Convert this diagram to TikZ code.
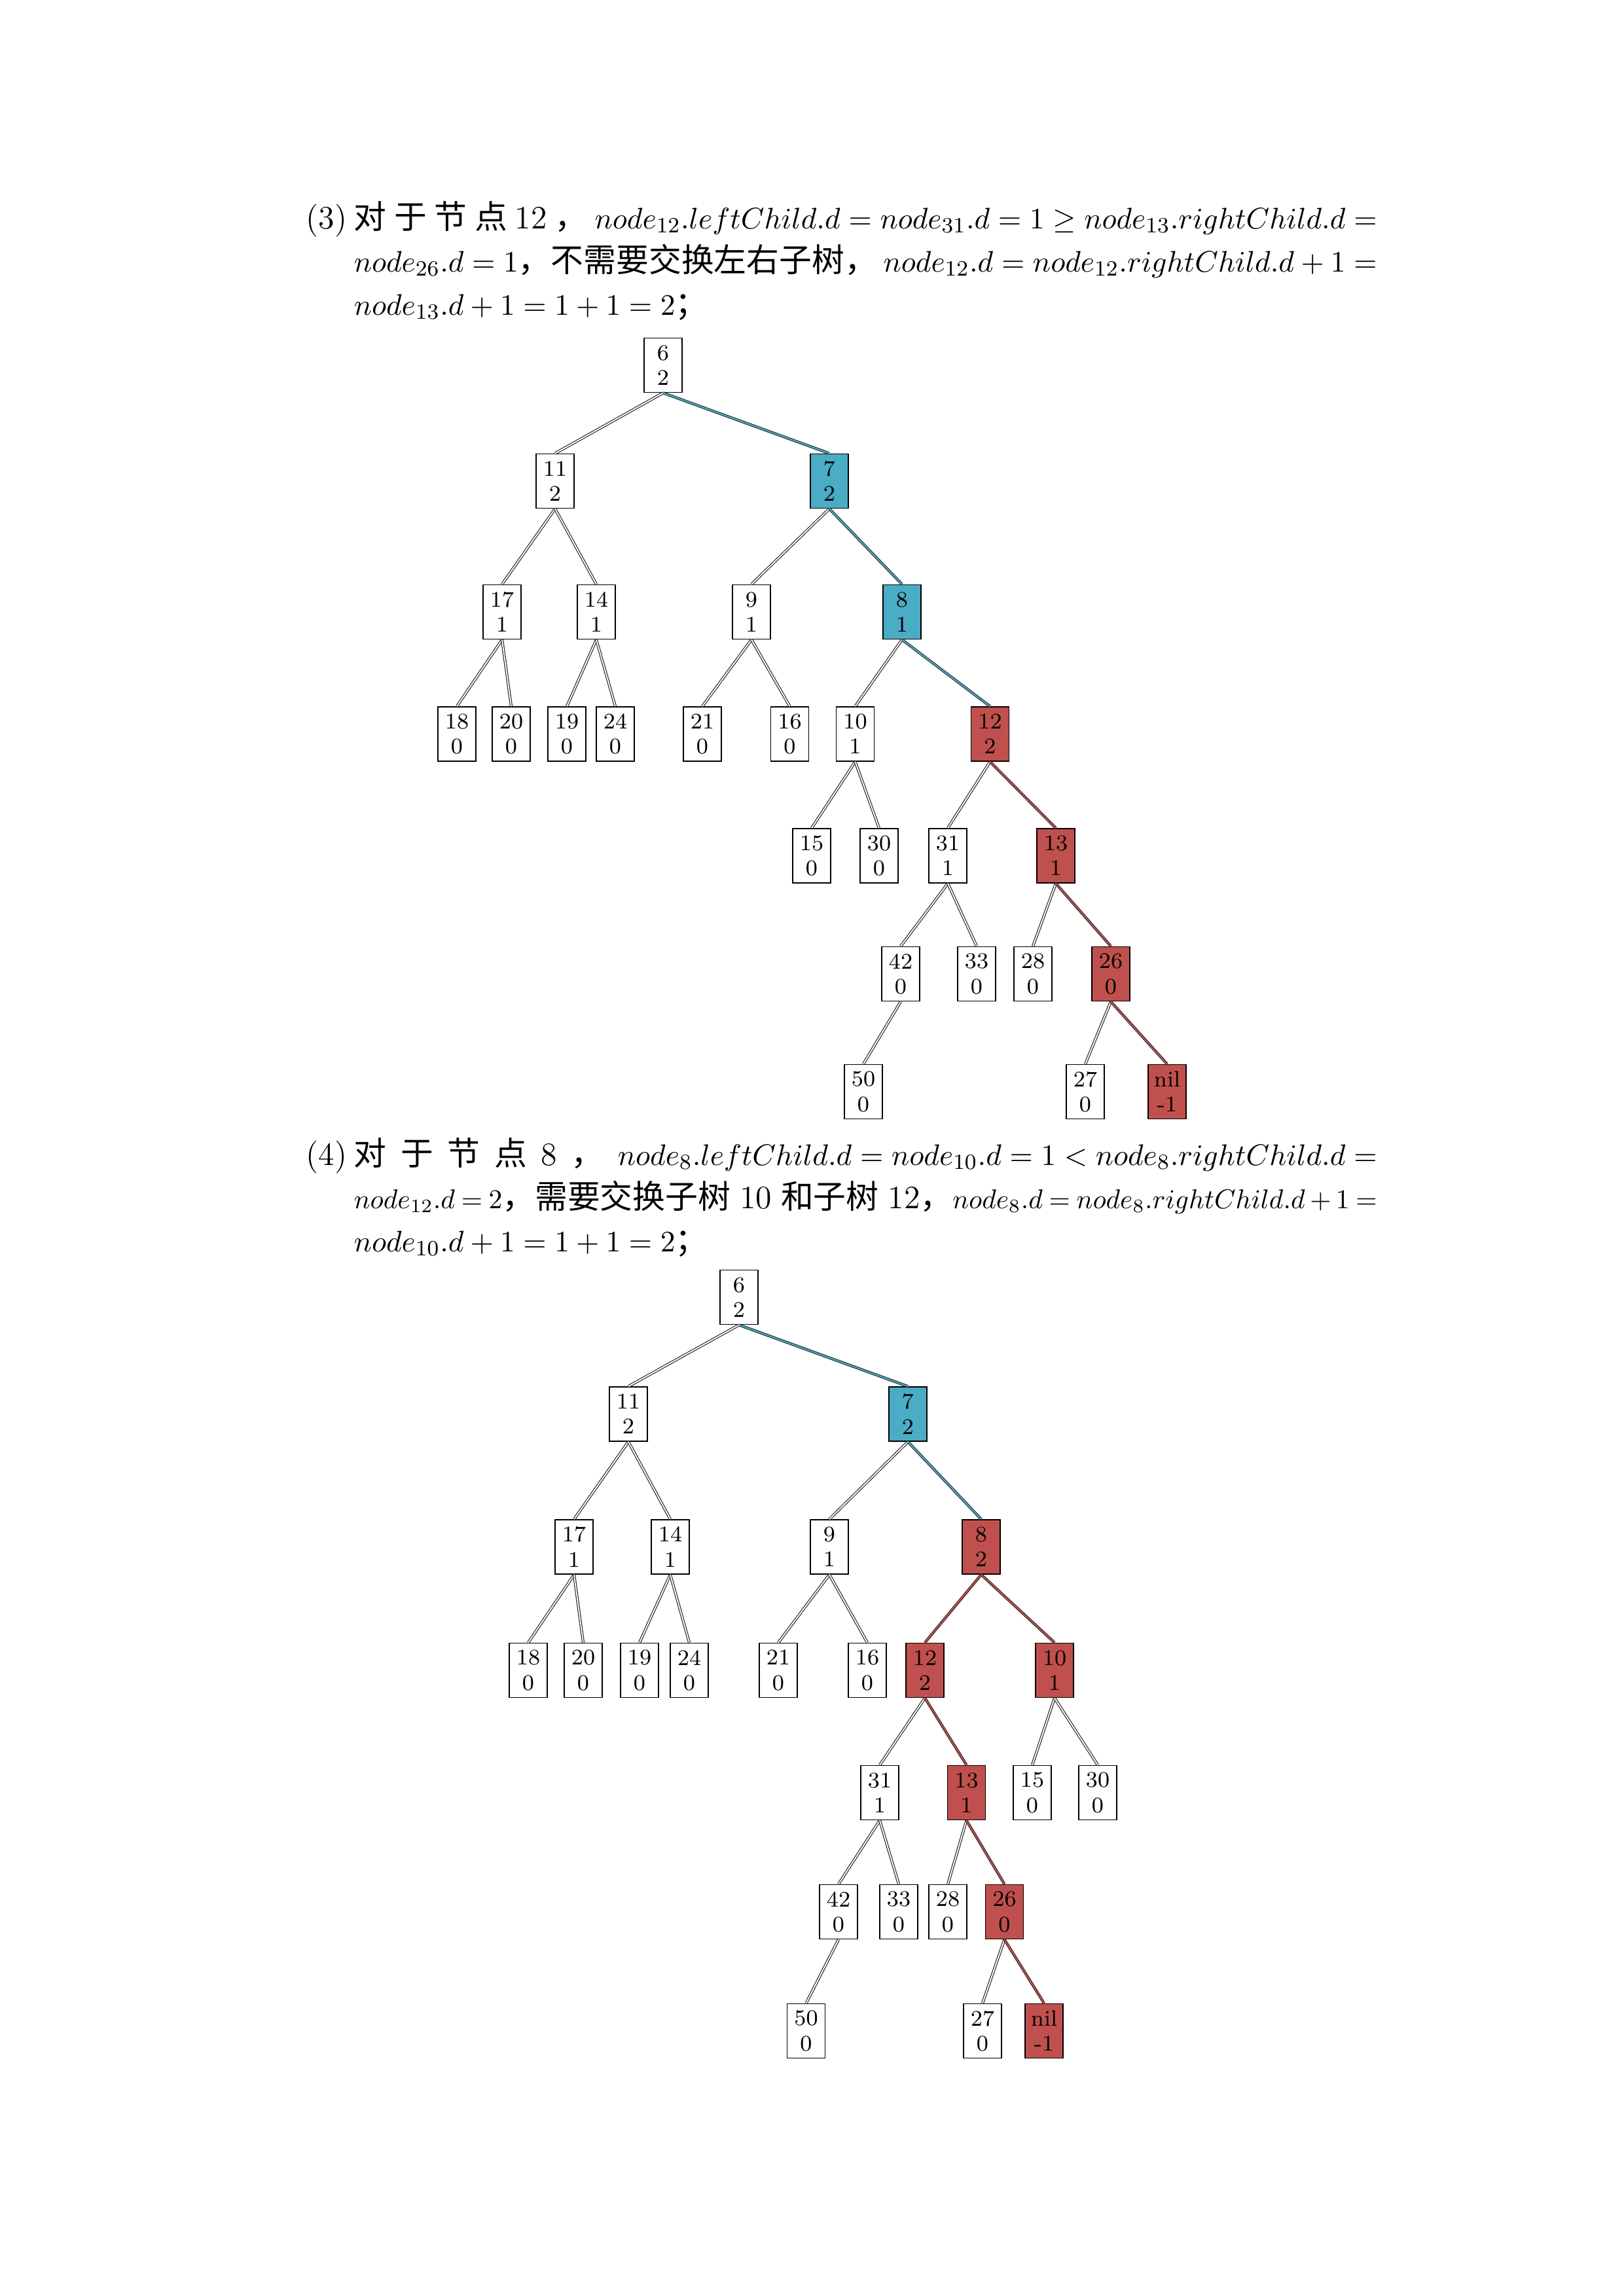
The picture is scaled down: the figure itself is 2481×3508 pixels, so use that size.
\documentclass[tikz,border=0pt]{standalone}
\usepackage{fontspec}
\newfontfamily\cjk{Noto Sans CJK SC}
\definecolor{nblue}{HTML}{4BACC6}
\definecolor{nred}{HTML}{C0504D}
\newcommand{\zh}[1]{{\cjk #1}}
% inline formula: slightly smaller, with relation/operator spaces that may shrink
\newcommand{\mthat}[2]{{\fontsize{#1}{15.9}\selectfont
  \thickmuskip=5mu plus 3mu minus 2mu\medmuskip=4mu plus 2mu minus 2mu$#2$}}
\newcommand{\mth}[1]{\mthat{11.2}{#1}}
\tikzset{
  box/.style={draw=black, line width=0.4pt, fill=white, minimum width=13.97pt,
    minimum height=20pt, inner sep=0pt, align=center,
    font=\fontsize{8.2}{9.2}\selectfont},
  bluebox/.style={box, fill=nblue},
  redbox/.style={box, fill=nred},
  edge/.style={draw=black!85, line width=0.28pt, double=white, double distance=0.45pt},
  bedge/.style={draw=black!85, line width=0.25pt, double=nblue, double distance=0.5pt},
  redge/.style={draw=black!85, line width=0.25pt, double=nred, double distance=0.5pt},
  txt/.style={anchor=base west, inner sep=0pt, font=\fontsize{12}{15.9}\selectfont}
}
\begin{document}
\begin{tikzpicture}[x=0.24090pt,y=-0.24090pt]
\fill[white] (0,0) rectangle (2481,3508);
\useasboundingbox (0,0) rectangle (2481,3508);

% ---------------- step (3) text ----------------
\node[txt] (p3) at (467,349) {(3)};
\node[txt] (p3a) at (540,349) {\hbox to 376.5pt{\zh{对}\hfill\zh{于}\hfill\zh{节}\hfill\zh{点}\hfill 12\hfill\zh{，}\hfill\mth{node_{12}.leftChild.d=node_{31}.d=1\geq node_{13}.rightChild.d=}}};
\node[txt] (p3b) at (540,415) {\hbox to 376.5pt{\mth{node_{26}.d=1}\zh{，不需要交换左右子树，}\hfill\mth{node_{12}.d=node_{12}.rightChild.d+1=}}};
\node[txt] (p3c) at (540,481) {\mth{node_{13}.d+1=1+1=2}\zh{；}};

% ---------------- tree after step (3) ----------------
\node[box]     (a6)  at (1013,558)    {6\\2};
\node[box]     (a11) at (848,735)     {11\\2};
\node[bluebox] (a7)  at (1267,735)    {7\\2};
\node[box]     (a17) at (767,935)     {17\\1};
\node[box]     (a14) at (911,935)     {14\\1};
\node[box]     (a9)  at (1148,935)    {9\\1};
\node[bluebox] (a8)  at (1378,935)    {8\\1};
\node[box]     (a18) at (698,1121.5)  {18\\0};
\node[box]     (a20) at (781,1121.5)  {20\\0};
\node[box]     (a19) at (866,1121.5)  {19\\0};
\node[box]     (a24) at (940,1121.5)  {24\\0};
\node[box]     (a21) at (1073,1121.5) {21\\0};
\node[box]     (a16) at (1206.5,1121.5) {16\\0};
\node[box]     (a10) at (1306.5,1121.5) {10\\1};
\node[redbox]  (a12) at (1512.5,1121.5) {12\\2};
\node[box]     (a15) at (1240,1307.5) {15\\0};
\node[box]     (a30) at (1343,1307.5) {30\\0};
\node[box]     (a31) at (1448,1307.5) {31\\1};
\node[redbox]  (a13) at (1613,1307.5) {13\\1};
\node[box]     (a42) at (1376,1488)   {42\\0};
\node[box]     (a33) at (1492,1488)   {33\\0};
\node[box]     (a28) at (1578,1488)   {28\\0};
\node[redbox]  (a26) at (1697,1488)   {26\\0};
\node[box]     (a50) at (1319,1668)   {50\\0};
\node[box]     (a27) at (1658,1668)   {27\\0};
\node[redbox]  (anil) at (1783,1668)  {nil\\-1};

\draw[edge]  (a6.south)  -- (a11.north);
\draw[bedge] (a6.south)  -- (a7.north);
\draw[edge]  (a11.south) -- (a17.north);
\draw[edge]  (a11.south) -- (a14.north);
\draw[edge]  (a17.south) -- (a18.north);
\draw[edge]  (a17.south) -- (a20.north);
\draw[edge]  (a14.south) -- (a19.north);
\draw[edge]  (a14.south) -- (a24.north);
\draw[edge]  (a7.south)  -- (a9.north);
\draw[bedge] (a7.south)  -- (a8.north);
\draw[edge]  (a9.south)  -- (a21.north);
\draw[edge]  (a9.south)  -- (a16.north);
\draw[edge]  (a8.south)  -- (a10.north);
\draw[bedge] (a8.south)  -- (a12.north);
\draw[edge]  (a10.south) -- (a15.north);
\draw[edge]  (a10.south) -- (a30.north);
\draw[edge]  (a12.south) -- (a31.north);
\draw[redge] (a12.south) -- (a13.north);
\draw[edge]  (a31.south) -- (a42.north);
\draw[edge]  (a31.south) -- (a33.north);
\draw[edge]  (a42.south) -- (a50.north);
\draw[edge]  (a13.south) -- (a28.north);
\draw[redge] (a13.south) -- (a26.north);
\draw[edge]  (a26.south) -- (a27.north);
\draw[redge] (a26.south) -- (anil.north);

% ---------------- step (4) text ----------------
\node[txt] (p4) at (467,1780) {(4)};
\node[txt] (p4a) at (540,1780) {\hbox to 376.5pt{\zh{对}\hfill\zh{于}\hfill\zh{节}\hfill\zh{点}\hfill 8\hfill\zh{，}\hfill\mth{node_{8}.leftChild.d=node_{10}.d=1<node_{8}.rightChild.d=}}};
\node[txt] (p4b) at (540,1846) {\hbox to 376.5pt{\mthat{10.4}{node_{12}.d=2}\zh{，需要交换子树} 10 \zh{和子树} 12\zh{，}\hfill\mthat{10.4}{node_{8}.d=node_{8}.rightChild.d+1=}}};
\node[txt] (p4c) at (540,1912) {\mth{node_{10}.d+1=1+1=2}\zh{；}};

% ---------------- tree after step (4) ----------------
\node[box]     (b6)  at (1129,1982)   {6\\2};
\node[box]     (b11) at (960,2160.5)  {11\\2};
\node[bluebox] (b7)  at (1387,2160.5) {7\\2};
\node[box]     (b17) at (877,2363.5)  {17\\1};
\node[box]     (b14) at (1024,2363.5) {14\\1};
\node[box]     (b9)  at (1267,2363.5) {9\\1};
\node[redbox]  (b8)  at (1499,2363.5) {8\\2};
\node[box]     (b18) at (807,2552)    {18\\0};
\node[box]     (b20) at (891,2552)    {20\\0};
\node[box]     (b19) at (977,2552)    {19\\0};
\node[box]     (b24) at (1053,2552)   {24\\0};
\node[box]     (b21) at (1189,2552)   {21\\0};
\node[box]     (b16) at (1325,2552)   {16\\0};
\node[redbox]  (b12) at (1413,2552)   {12\\2};
\node[redbox]  (b10) at (1611,2552)   {10\\1};
\node[box]     (b31) at (1344,2739)   {31\\1};
\node[redbox]  (b13) at (1476.5,2739) {13\\1};
\node[box]     (b15) at (1577,2739)   {15\\0};
\node[box]     (b30) at (1677,2739)   {30\\0};
\node[box]     (b42) at (1281,2921)   {42\\0};
\node[box]     (b33) at (1373,2921)   {33\\0};
\node[box]     (b28) at (1448,2921)   {28\\0};
\node[redbox]  (b26) at (1534.5,2921) {26\\0};
\node[box]     (b50) at (1231.5,3103) {50\\0};
\node[box]     (b27) at (1501,3103)   {27\\0};
\node[redbox]  (bnil) at (1595,3103)  {nil\\-1};

\draw[edge]  (b6.south)  -- (b11.north);
\draw[bedge] (b6.south)  -- (b7.north);
\draw[edge]  (b11.south) -- (b17.north);
\draw[edge]  (b11.south) -- (b14.north);
\draw[edge]  (b17.south) -- (b18.north);
\draw[edge]  (b17.south) -- (b20.north);
\draw[edge]  (b14.south) -- (b19.north);
\draw[edge]  (b14.south) -- (b24.north);
\draw[edge]  (b7.south)  -- (b9.north);
\draw[bedge] (b7.south)  -- (b8.north);
\draw[edge]  (b9.south)  -- (b21.north);
\draw[edge]  (b9.south)  -- (b16.north);
\draw[redge] (b8.south)  -- (b12.north);
\draw[redge] (b8.south)  -- (b10.north);
\draw[edge]  (b12.south) -- (b31.north);
\draw[redge] (b12.south) -- (b13.north);
\draw[edge]  (b10.south) -- (b15.north);
\draw[edge]  (b10.south) -- (b30.north);
\draw[edge]  (b31.south) -- (b42.north);
\draw[edge]  (b31.south) -- (b33.north);
\draw[edge]  (b42.south) -- (b50.north);
\draw[edge]  (b13.south) -- (b28.north);
\draw[redge] (b13.south) -- (b26.north);
\draw[edge]  (b26.south) -- (b27.north);
\draw[redge] (b26.south) -- (bnil.north);
\end{tikzpicture}
\end{document}
